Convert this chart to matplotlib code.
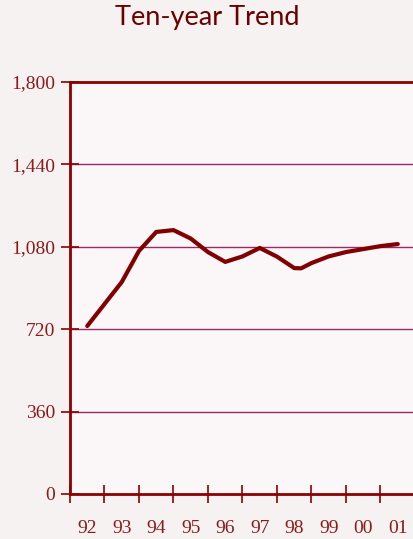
import matplotlib
matplotlib.use("Agg")
import matplotlib.pyplot as plt
import numpy as np

years = ["92", "93", "94", "95", "96", "97", "98", "99", "00", "01"]
# half-year sample positions (index into years) and values
pos = [0, 0.5, 1, 1.5, 2, 2.5, 3, 3.5, 4, 4.5, 5, 5.5, 6, 6.2, 6.5, 7, 7.5, 8, 8.5, 9]
vals = [734, 830, 926, 1062, 1145, 1153, 1116, 1057, 1014, 1038, 1075, 1037, 987, 986,
        1009, 1038, 1057, 1070, 1083, 1092]
yticks = [0, 360, 720, 1080, 1440, 1800]
ytick_labels = ["0", "360", "720", "1,080", "1,440", "1,800"]

fig = plt.figure(figsize=(4.14, 5.39), dpi=100, facecolor="#f5f2f1")
ax = fig.add_axes([70/414, 45/539, 345/414, 412/539])
ax.set_facecolor("#fbf6f8")

ax.plot(pos, vals, color="#800000", lw=3.0, solid_capstyle="round", solid_joinstyle="round", zorder=3)

ax.set_xlim(-0.5, 9.5)
ax.set_ylim(0, 1800)
ax.set_yticks(yticks)
ax.set_yticklabels(ytick_labels)
for y in yticks[1:-1]:
    ax.axhline(y, color="#9a2a62", lw=1.0, zorder=1)

ax.set_xticks(np.arange(-0.5, 9.0, 1.0))
ax.set_xticklabels([])
ax.set_xticks(np.arange(0, 10), minor=True)
ax.set_xticklabels(years, minor=True)
ax.tick_params(axis="x", which="major", direction="inout", length=13, width=1.2, color="#8b0000")
ax.tick_params(axis="x", which="minor", length=0, pad=19, labelsize=14, labelcolor="#8b1a1a")
ax.tick_params(axis="y", direction="inout", length=13, width=1.2, color="#8b0000",
               labelsize=14, labelcolor="#8b1a1a", pad=4)
for lab in ax.get_xticklabels(minor=True) + ax.get_yticklabels():
    lab.set_fontfamily("Liberation Serif")

for side in ["left", "bottom", "top"]:
    ax.spines[side].set_color("#8b0000")
    ax.spines[side].set_linewidth(2.0)
ax.spines["right"].set_color("#e8c8d4")
ax.spines["right"].set_linewidth(1.0)

fig.text(0.5, 1 - 18/539, "Ten-year Trend", ha="center", va="center",
         fontsize=19.5, color="#6b0000", family="Lato")

fig.savefig("out.png", dpi=100, facecolor=fig.get_facecolor())
